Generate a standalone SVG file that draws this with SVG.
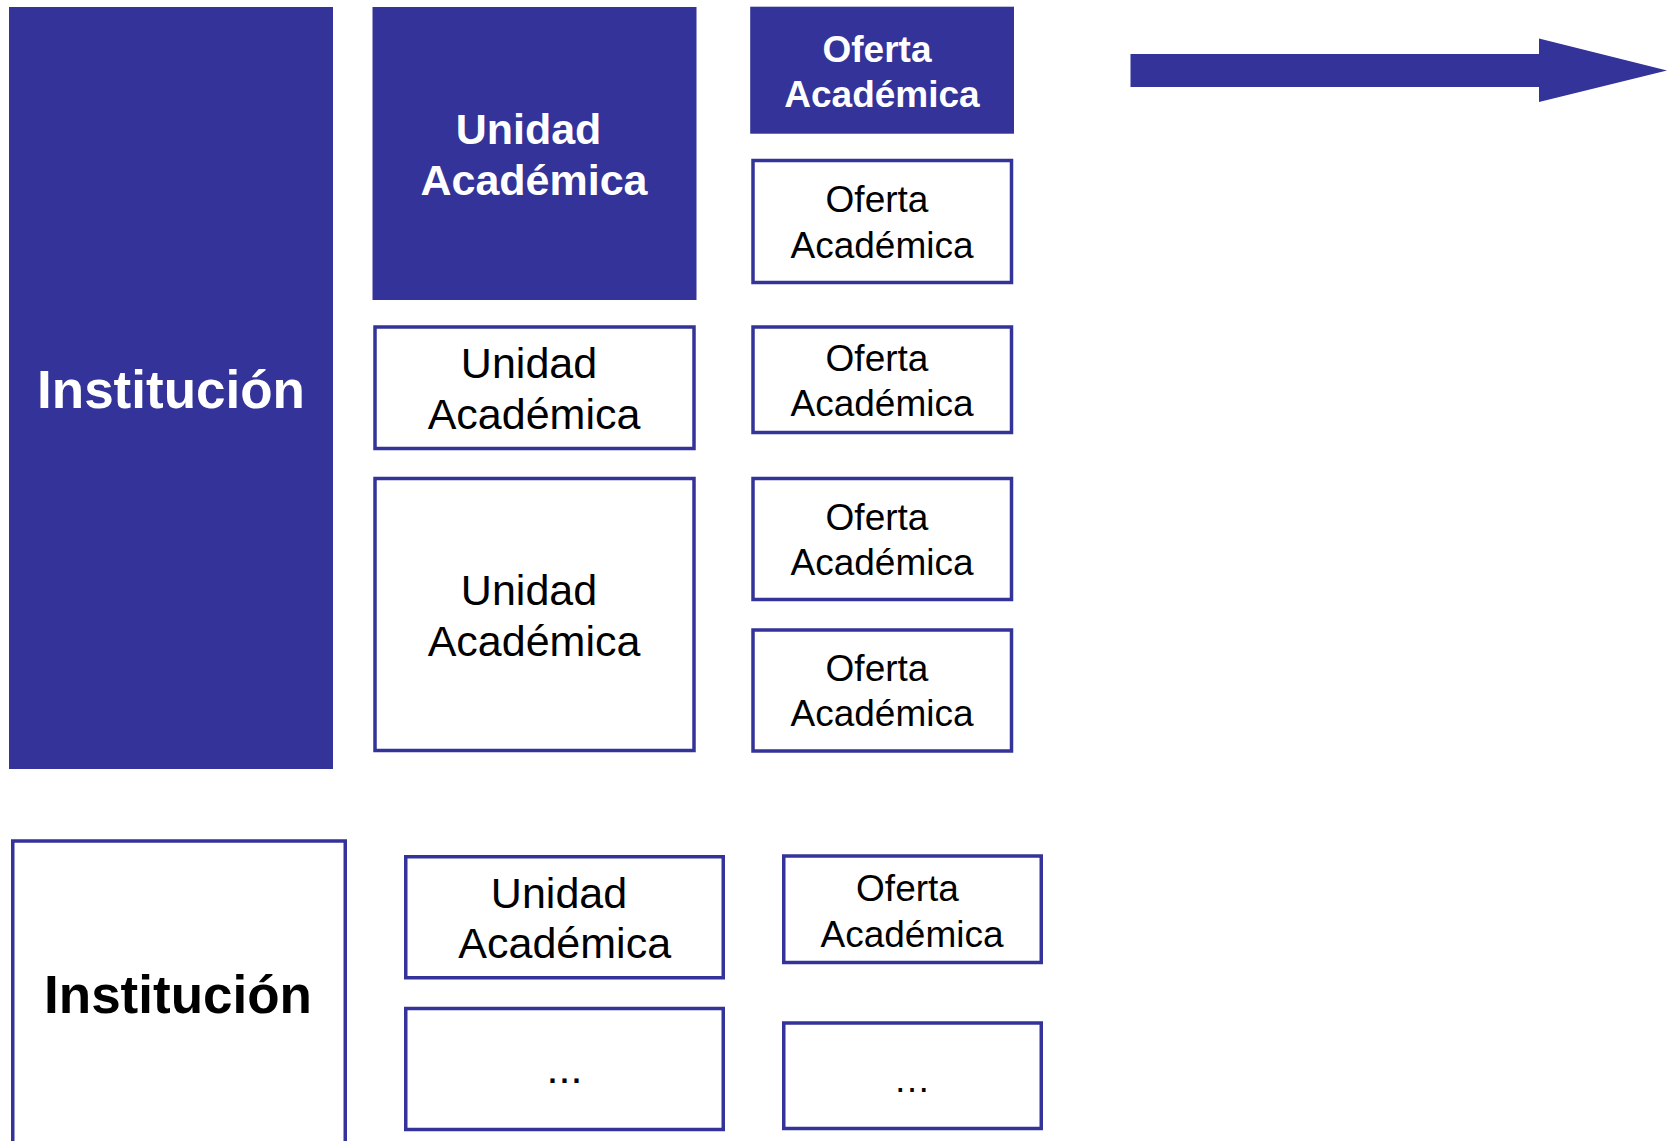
<svg xmlns="http://www.w3.org/2000/svg" width="1667" height="1141" viewBox="0 0 1667 1141">
<style>
.fill{fill:#333399;stroke:none}
.box{fill:#ffffff;stroke:#333399;stroke-width:3.5}
text{font-family:"Liberation Sans",Arial,sans-serif;text-anchor:middle}
.w{fill:#ffffff;font-weight:bold}
.b{fill:#000000}
.bb{fill:#000000;font-weight:bold}
.u{font-size:43px}
.o{font-size:37px}
.i{font-size:53px}
</style>
<rect width="1667" height="1141" fill="#ffffff"/>
<g id="connectors">
<polygon class="fill" points="1130.5,54 1539,54 1539,38.5 1667,70.5 1539,102 1539,87 1130.5,87"/>
</g>
<g id="inst1">
<rect class="fill" x="9" y="7" width="324" height="762"/>
<text class="w i" x="171" y="408">Institución</text>
</g>
<g id="unidad1">
<rect class="fill" x="372.5" y="7" width="324" height="293"/>
<text class="w u" x="528.5" y="144">Unidad</text>
<text class="w u" x="534" y="195">Académica</text>
</g>
<g id="unidad2">
<rect class="box" x="375" y="327" width="319" height="121.5"/>
<text class="b u" x="529" y="378">Unidad</text>
<text class="b u" x="534" y="429">Académica</text>
</g>
<g id="unidad3">
<rect class="box" x="375" y="478.5" width="319" height="272"/>
<text class="b u" x="529" y="605">Unidad</text>
<text class="b u" x="534" y="656">Académica</text>
</g>
<g id="oferta1">
<rect class="fill" x="750.2" y="6.7" width="263.8" height="127"/>
<text class="w o" x="877" y="61.7">Oferta</text>
<text class="w o" x="882" y="106.7">Académica</text>
</g>
<g id="oferta2">
<rect class="box" x="753" y="160.5" width="258.5" height="122"/>
<text class="b o" x="877" y="212.3">Oferta</text>
<text class="b o" x="882" y="258.3">Académica</text>
</g>
<g id="oferta3">
<rect class="box" x="753" y="327" width="258.5" height="105.5"/>
<text class="b o" x="877" y="371">Oferta</text>
<text class="b o" x="882" y="416">Académica</text>
</g>
<g id="oferta4">
<rect class="box" x="753" y="478.5" width="258.5" height="121"/>
<text class="b o" x="877" y="530">Oferta</text>
<text class="b o" x="882" y="575">Académica</text>
</g>
<g id="oferta5">
<rect class="box" x="753" y="630" width="258.5" height="121"/>
<text class="b o" x="877" y="681">Oferta</text>
<text class="b o" x="882" y="726">Académica</text>
</g>
<g id="inst2">
<rect class="box" x="12.75" y="841" width="332.5" height="400"/>
<text class="bb i" x="178" y="1012.7">Institución</text>
</g>
<g id="unidad4">
<rect class="box" x="405.75" y="856.75" width="317.5" height="121"/>
<text class="b u" x="559" y="908">Unidad</text>
<text class="b u" x="564.7" y="958">Académica</text>
</g>
<g id="unidad5">
<rect class="box" x="405.75" y="1008.5" width="317.5" height="121"/>
<text class="b u" x="564.5" y="1083">...</text>
</g>
<g id="oferta6">
<rect class="box" x="783.75" y="856" width="257.5" height="106.5"/>
<text class="b o" x="907.5" y="901">Oferta</text>
<text class="b o" x="912" y="946.7">Académica</text>
</g>
<g id="oferta7">
<rect class="box" x="783.75" y="1023" width="257.5" height="105.5"/>
<text class="b o" x="912" y="1091.7">…</text>
</g>
</svg>
